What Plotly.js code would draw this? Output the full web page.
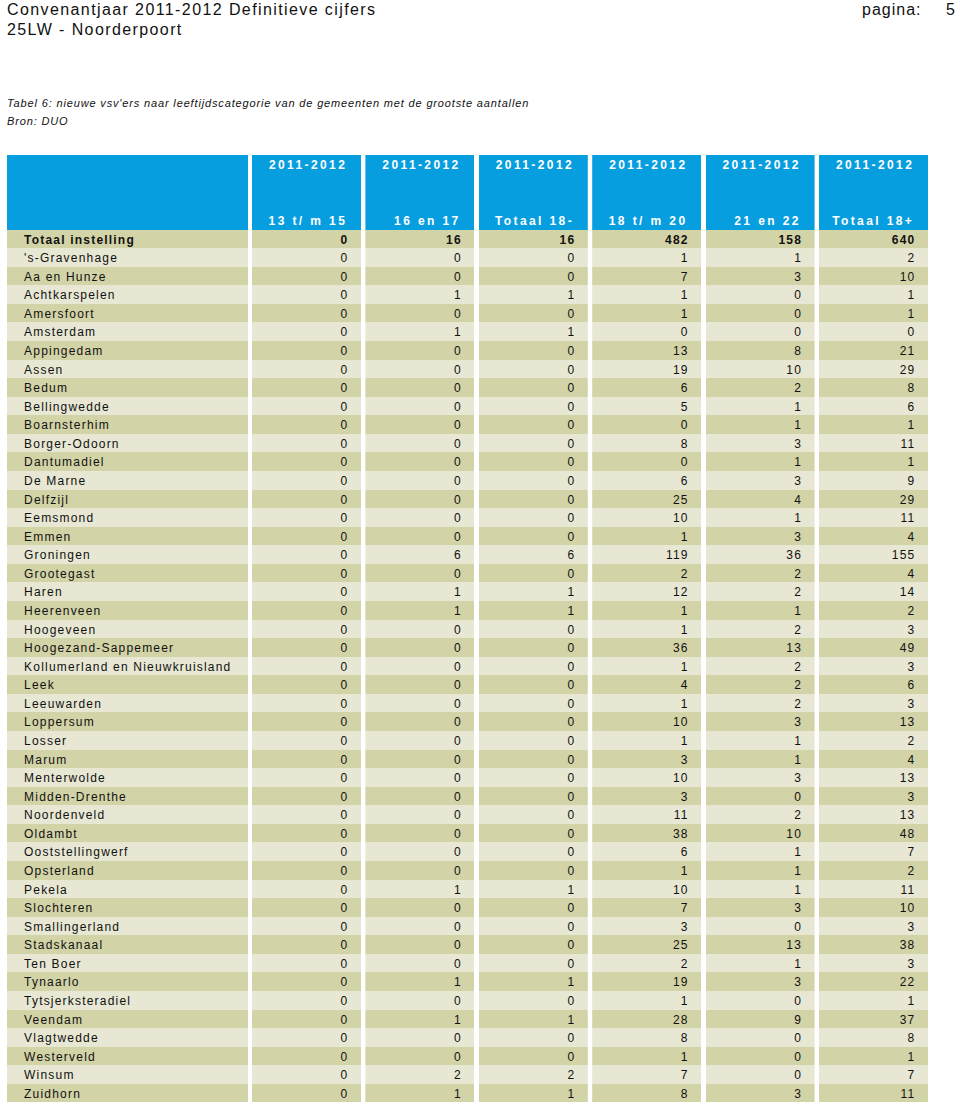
<!DOCTYPE html>
<html><head><meta charset="utf-8">
<script src="https://cdn.plot.ly/plotly-3.0.1.min.js"></script>
<style>
html,body{margin:0;padding:0;background:#fff;}
#chart{width:960px;height:1106px;}
#chart g.table text{letter-spacing:1.2px;dominant-baseline:text-after-edge;}
#chart g.table text[style*="255, 255, 255"]{letter-spacing:2.4px;}
</style></head><body><div id="chart"></div><script>
// ---------------- data ----------------
const yearLabels = ["2011-2012","2011-2012","2011-2012","2011-2012","2011-2012","2011-2012"];
const ageGroups = ["13 t/ m 15","16 en 17","Totaal 18-","18 t/ m 20","21 en 22","Totaal 18+"];
const totalLabel = "Totaal instelling";
const totals = [0,16,16,482,158,640];
const municipalities = ["'s-Gravenhage","Aa en Hunze","Achtkarspelen","Amersfoort","Amsterdam","Appingedam","Assen","Bedum","Bellingwedde","Boarnsterhim","Borger-Odoorn","Dantumadiel","De Marne","Delfzijl","Eemsmond","Emmen","Groningen","Grootegast","Haren","Heerenveen","Hoogeveen","Hoogezand-Sappemeer","Kollumerland en Nieuwkruisland","Leek","Leeuwarden","Loppersum","Losser","Marum","Menterwolde","Midden-Drenthe","Noordenveld","Oldambt","Ooststellingwerf","Opsterland","Pekela","Slochteren","Smallingerland","Stadskanaal","Ten Boer","Tynaarlo","Tytsjerksteradiel","Veendam","Vlagtwedde","Westerveld","Winsum","Zuidhorn"];
const age13to15   = [0,0,0,0,0,0,0,0,0,0,0,0,0,0,0,0,0,0,0,0,0,0,0,0,0,0,0,0,0,0,0,0,0,0,0,0,0,0,0,0,0,0,0,0,0,0];
const age16and17  = [0,0,1,0,1,0,0,0,0,0,0,0,0,0,0,0,6,0,1,1,0,0,0,0,0,0,0,0,0,0,0,0,0,0,1,0,0,0,0,1,0,1,0,0,2,1];
const totalUnder18= [0,0,1,0,1,0,0,0,0,0,0,0,0,0,0,0,6,0,1,1,0,0,0,0,0,0,0,0,0,0,0,0,0,0,1,0,0,0,0,1,0,1,0,0,2,1];
const age18to20   = [1,7,1,1,0,13,19,6,5,0,8,0,6,25,10,1,119,2,12,1,1,36,1,4,1,10,1,3,10,3,11,38,6,1,10,7,3,25,2,19,1,28,8,1,7,8];
const age21and22  = [1,3,0,0,0,8,10,2,1,1,3,1,3,4,1,3,36,2,2,1,2,13,2,2,2,3,1,1,3,0,2,10,1,1,1,3,0,13,1,3,0,9,0,0,0,3];
const total18plus = [2,10,1,1,0,21,29,8,6,1,11,1,9,29,11,4,155,4,14,2,3,49,3,6,3,13,2,4,13,3,13,48,7,2,11,10,3,38,3,22,1,37,8,1,7,11];
const valueColumns = [age13to15, age16and17, totalUnder18, age18to20, age21and22, total18plus];

// ---------------- style ----------------
const W = 960, H = 1106;
const BLUE = '#079ee0', DARK = '#d2d3a6', LIGHT = '#e7e7d4';
const FONT = 'Liberation Sans, Arial, sans-serif';
const tableTop = 155, headerH = 56, rowH = 18.57;
const nb = '\u00a0';
const nRows = municipalities.length + 2;
const fills = [], fontColors = [], weights = [];
for (let i = 0; i < nRows; i++) {
  fills.push(i === 0 ? BLUE : (i % 2 === 1 ? DARK : LIGHT));
  fontColors.push(i === 0 ? '#ffffff' : '#111111');
  weights.push(i <= 1 ? 'bold' : 'normal');
}
const keep = s => s.replace(/ /g, nb);   // no wrapping inside cells
const colEdges = [[7, 248]];
for (let k = 0; k < 6; k++) colEdges.push([252 + k * 113.4, 252 + k * 113.4 + 109.8]);

const traces = [];
colEdges.forEach((e, k) => {
  let head, vals, align;
  if (k === 0) {
    head = nb;
    vals = [nb].concat([nb + nb + keep(totalLabel)], municipalities.map(m => nb + nb + keep(m)));
    align = 'left';
  } else {
    head = yearLabels[k - 1] + nb;
    vals = [keep(ageGroups[k - 1]) + nb, String(totals[k - 1]) + nb]
      .concat(valueColumns[k - 1].map(v => String(v) + nb));
    align = 'right';
  }
  traces.push({
    type: 'table',
    domain: {x: [e[0] / W, e[1] / W], y: [0, 1 - tableTop / H]},
    columnwidth: [1],
    header: {
      values: [head], align: align, height: headerH,
      fill: {color: BLUE}, line: {width: 0, color: BLUE},
      font: {family: FONT, size: 12, color: '#ffffff', weight: 'bold'}
    },
    cells: {
      values: [vals], align: align, height: rowH,
      fill: {color: [fills]}, line: {width: 0, color: 'white'},
      font: {family: FONT, size: 12, color: [fontColors], weight: [weights]}
    }
  });
});

const ann = (text, x, y, size, opts) => Object.assign({
  text: text, xref: 'paper', yref: 'paper', x: x / W, y: 1 - y / H,
  xanchor: 'left', yanchor: 'middle', showarrow: false,
  font: {family: FONT, size: size, color: '#111'}
}, opts || {});

const layout = {
  width: W, height: H, margin: {l: 0, r: 0, t: 0, b: 0},
  paper_bgcolor: '#fff', plot_bgcolor: '#fff', showlegend: false,
  annotations: [
    ann('<span style="letter-spacing:1.4px">Convenantjaar 2011-2012 Definitieve cijfers</span>', 5, 9.5, 16),
    ann('<span style="letter-spacing:1.4px">25LW - Noorderpoort</span>', 5, 29.5, 16),
    ann('<span style="letter-spacing:1px">pagina:</span>', 860, 9.5, 16),
    ann('5', 957, 9.5, 16, {xanchor: 'right'}),
    ann('<span style="letter-spacing:0.85px"><i>Tabel 6: nieuwe vsv\'ers naar leeftijdscategorie van de gemeenten met de grootste aantallen</i></span>', 5, 103, 11),
    ann('<span style="letter-spacing:0.85px"><i>Bron: DUO</i></span>', 5, 121, 11)
  ]
};
Plotly.newPlot('chart', traces, layout, {displayModeBar: false, staticPlot: true});
</script></body></html>
